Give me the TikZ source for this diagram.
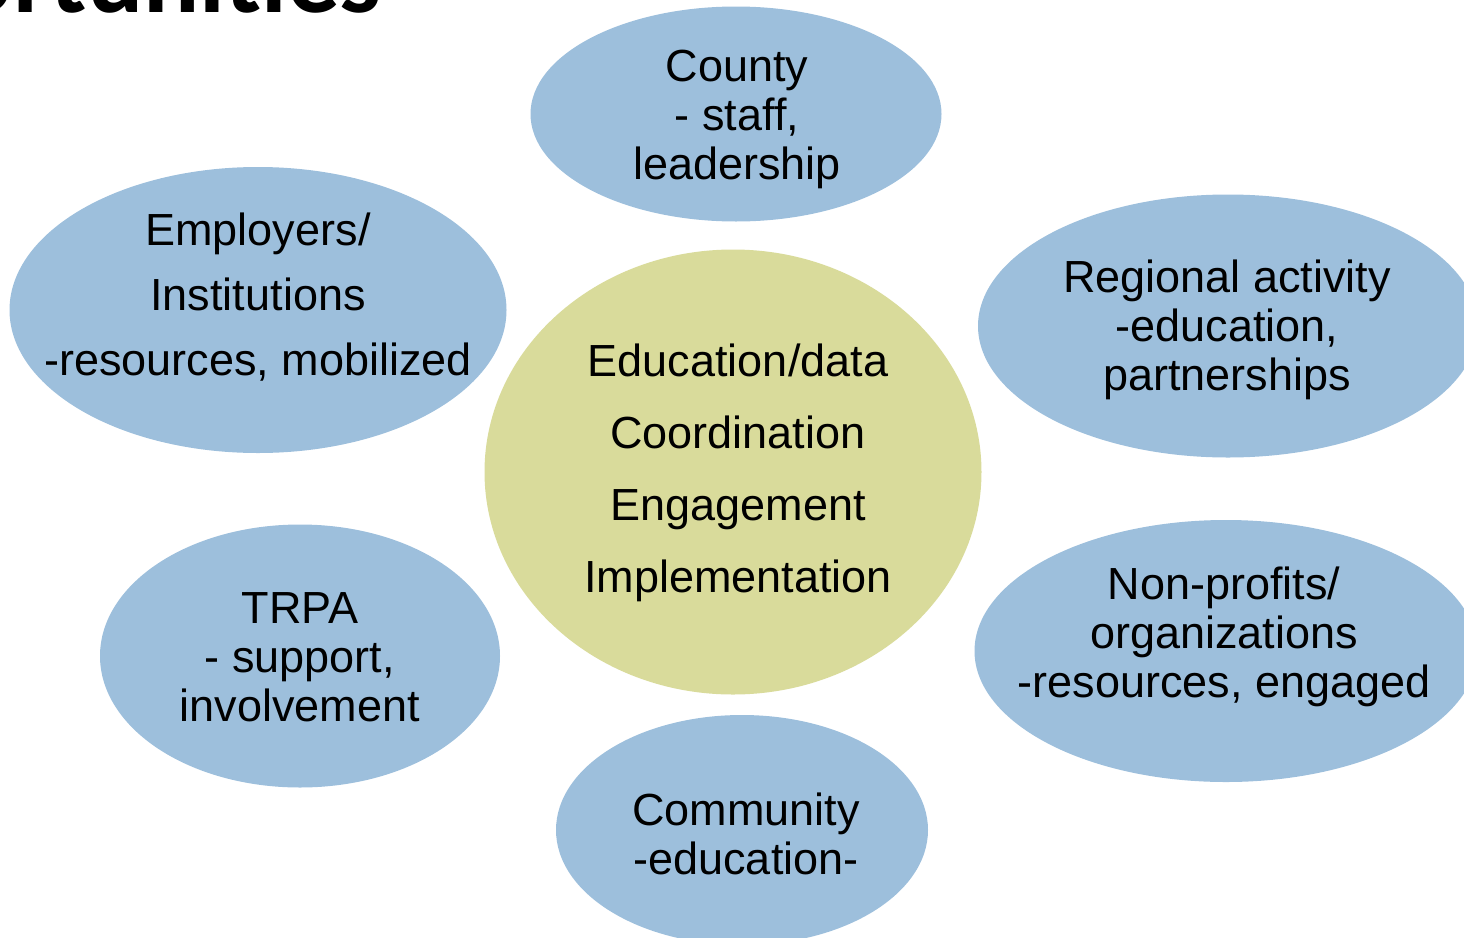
\documentclass[tikz,border=0pt]{standalone}
\usepackage{fontspec}
\setmainfont{Liberation Sans}
\newfontfamily\titlefont{Carlito}
\usetikzlibrary{shapes.geometric}
\definecolor{bubblec}{HTML}{9DBFDC}
\definecolor{corec}{HTML}{D9DB9B}
\begin{document}
\begin{tikzpicture}[x=1pt,y=-1pt,
  bubble/.style={ellipse, fill=bubblec, draw=none, inner sep=0pt},
  core/.style={ellipse, fill=corec, draw=none, inner sep=0pt},
  lbl/.style={align=center, font=\fontsize{45}{49}\selectfont, inner sep=0pt, text=black}]
\useasboundingbox (0,0) rectangle (1464,937);
% title fragment
\node[anchor=base east, inner sep=0pt, font=\titlefont\bfseries\fontsize{105}{105}\selectfont] (title) at (382,12) {ortunities};
% bubbles
\node[bubble, minimum width=411pt, minimum height=215pt] (county) at (736,114) {};
\node[bubble, minimum width=497pt, minimum height=286pt] (employers) at (258,310) {};
\node[core, minimum width=497pt, minimum height=445pt] (center) at (733,472) {};
\node[bubble, minimum width=500pt, minimum height=263pt] (regional) at (1228,326) {};
\node[bubble, minimum width=503pt, minimum height=262pt] (nonprofits) at (1226,651) {};
\node[bubble, minimum width=400pt, minimum height=263pt] (trpa) at (300,656) {};
\node[bubble, minimum width=372pt, minimum height=230pt] (community) at (742,830) {};
% labels
\node[lbl] (countyT) at (737,119) {County\\- staff,\\leadership};
\node[lbl, font=\fontsize{45}{65}\selectfont] (employersT) at (258,297) {Employers/\\Institutions\\-resources, mobilized};
\node[lbl, font=\fontsize{45}{72}\selectfont] (centerT) at (738,473) {Education/data\\Coordination\\Engagement\\Implementation};
\node[lbl] (regionalT) at (1227,330) {Regional activity\\-education,\\partnerships};
\node[lbl] (nonprofitsT) at (1224,637) {Non-profits/\\organizations\\-resources, engaged};
\node[lbl] (trpaT) at (300,657) {TRPA\\- support,\\involvement};
\node[lbl] (communityT) at (746,834) {Community\\-education-};
\end{tikzpicture}
\end{document}
